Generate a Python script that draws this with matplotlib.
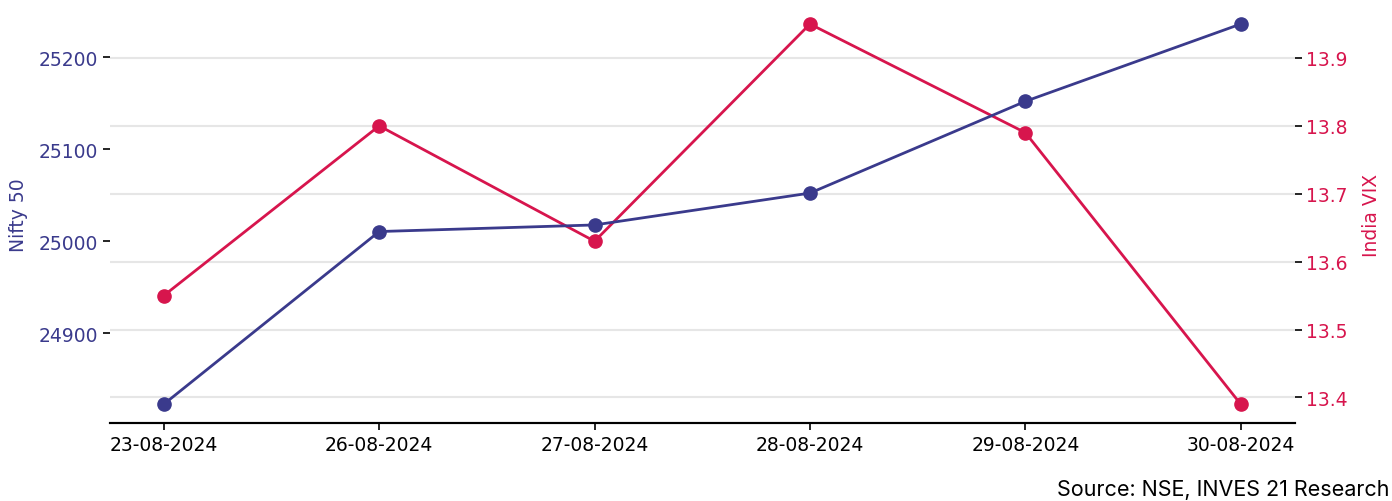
import matplotlib.pyplot as plt

plt.rcParams["font.family"] = "DejaVu Sans"

dates = ["23-08-2024", "26-08-2024", "27-08-2024", "28-08-2024", "29-08-2024", "30-08-2024"]
nifty = [24823.15, 25010.60, 25017.75, 25052.35, 25151.95, 25235.90]
vix = [13.55, 13.80, 13.63, 13.95, 13.79, 13.39]

nifty_color = "#3A3A8C"
vix_color = "#D7154D"

fig = plt.figure(figsize=(13.92, 5.02), dpi=100)
ax = fig.add_axes([0.079, 0.155, 0.851, 0.833])
ax2 = ax.twinx()

x = range(len(dates))
ax.plot(x, nifty, color=nifty_color, lw=2, marker="o", ms=9.5, zorder=3)
ax2.plot(x, vix, color=vix_color, lw=2, marker="o", ms=9.5, zorder=2)

ax.set_xticks(list(x))
ax.set_xticklabels(dates, fontsize=13.5)
ax.set_yticks([24900, 25000, 25100, 25200])
ax.tick_params(axis="y", labelsize=13.5, labelcolor=nifty_color, length=5, width=1.2)
ax.tick_params(axis="x", length=5, width=1.2)
ax.set_ylabel("Nifty 50", color=nifty_color, fontsize=13.5, labelpad=8)

ax2.set_yticks([13.4, 13.5, 13.6, 13.7, 13.8, 13.9])
ax2.tick_params(axis="y", labelsize=13.5, labelcolor=vix_color, length=5, width=1.2)
ax2.set_ylabel("India VIX", color=vix_color, fontsize=13.5, labelpad=10)
ax2.grid(axis="y", color="#E6E6E6", lw=1.5)
ax2.set_axisbelow(True)

for a in (ax, ax2):
    for side in ("top", "left", "right"):
        a.spines[side].set_visible(False)
    a.spines["bottom"].set_linewidth(1.5)

# keep the Nifty line above the twin axis
ax.set_zorder(ax2.get_zorder() + 1)
ax.patch.set_visible(False)

fig.text(0.998, 0.003, "Source: NSE, INVES 21 Research", ha="right", va="bottom",
         fontsize=15.5, family="Inter")

fig.savefig("out.png", dpi=100)
